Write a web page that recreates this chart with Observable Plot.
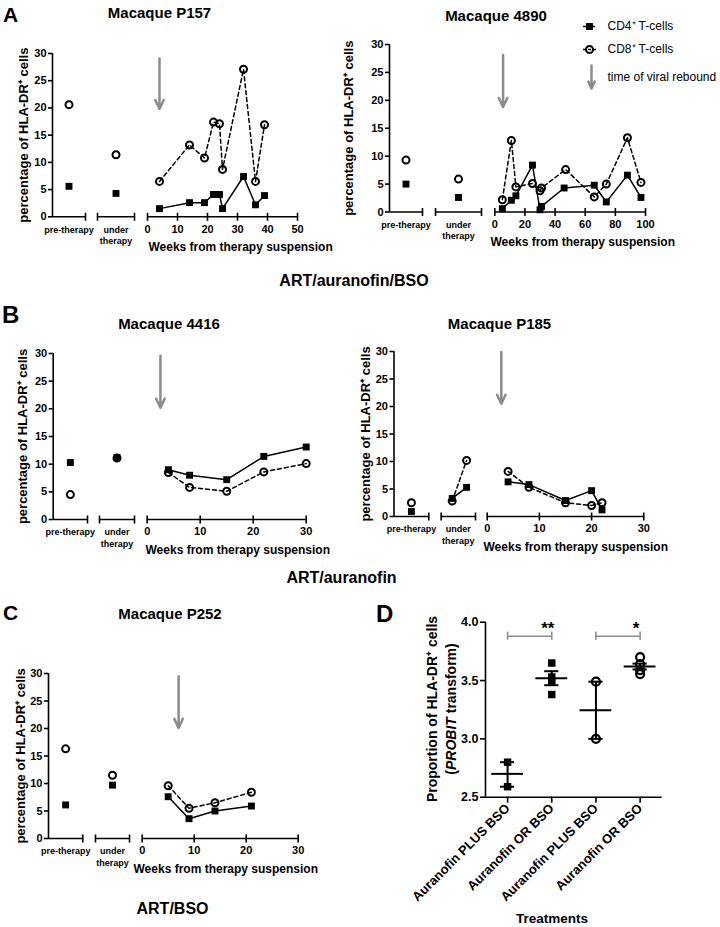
<!DOCTYPE html>
<html><head><meta charset="utf-8">
<script src="https://cdn.jsdelivr.net/npm/d3@7"></script>
<script src="https://cdn.jsdelivr.net/npm/@observablehq/plot@0.6"></script>
<style>
body{margin:0;background:#fff;}
#root{position:relative;width:720px;height:927px;overflow:hidden;background:#fff;}
.layer{position:absolute;}
</style></head><body><div id="root"></div>
<script>
// ---------------- DATA ----------------
const yTicks = [0, 5, 10, 15, 20, 25, 30];
const yLabel = "percentage of HLA-DR⁺ cells";

// Macaque P157
const P157_phase = ["pre-therapy", "under therapy"];
const P157_phaseCD4 = [5.6, 4.3];
const P157_phaseCD8 = [20.6, 11.4];
const P157_weeksCD4 = [4, 14, 19, 22, 24, 25, 32, 36, 39];
const P157_CD4 = [1.5, 2.6, 2.6, 4.1, 4.1, 1.5, 7.4, 2.2, 3.9];
const P157_weeksCD8 = [4, 14, 19, 22, 24, 25, 32, 36, 39];
const P157_CD8 = [6.5, 13.2, 10.8, 17.4, 17.1, 8.7, 27.1, 6.5, 16.9];
const P157_rebound = 4;
const P157_weekTicks = [0, 10, 20, 30, 40, 50];

// Macaque 4890
const M4890_phase = ["pre-therapy", "under therapy"];
const M4890_phaseCD4 = [5.0, 2.6];
const M4890_phaseCD8 = [9.3, 5.9];
const M4890_weeksCD4 = [5, 11, 14, 25, 30, 31, 46, 66, 74, 88, 97];
const M4890_CD4 = [0.6, 2.1, 2.9, 8.4, 0.4, 1.0, 4.3, 4.8, 1.8, 6.6, 2.6];
const M4890_weeksCD8 = [5, 11, 14, 25, 30, 31, 47, 66, 74, 88, 97];
const M4890_CD8 = [2.2, 12.8, 4.5, 5.1, 3.8, 4.3, 7.6, 2.7, 5.0, 13.3, 5.3];
const M4890_rebound = 5.5;
const M4890_weekTicks = [0, 20, 40, 60, 80, 100];

// Macaque 4416
const M4416_phase = ["pre-therapy", "under therapy"];
const M4416_phaseCD4 = [10.3, 11.2];
const M4416_phaseCD8 = [4.5, 11.1];
const M4416_weeksCD4 = [4, 8, 15, 22, 30];
const M4416_CD4 = [9.0, 8.0, 7.2, 11.4, 13.1];
const M4416_weeksCD8 = [4, 8, 15, 22, 30];
const M4416_CD8 = [8.5, 5.8, 5.1, 8.6, 10.1];
const M4416_rebound = 2.5;
const M4416_weekTicks = [0, 10, 20, 30];

// Macaque P185
const P185_phase = ["pre-therapy", "under therapy", "under therapy"];
const P185_phaseCD4 = [0.9, 3.3, 5.3];
const P185_phaseCD8 = [2.5, 2.8, 10.2];
const P185_weeksCD4 = [4, 8, 15, 20, 22];
const P185_CD4 = [6.3, 5.8, 2.9, 4.7, 1.2];
const P185_weeksCD8 = [4, 8, 15, 20, 22];
const P185_CD8 = [8.2, 5.3, 2.5, 2.0, 2.5];
const P185_rebound = 2.7;
const P185_weekTicks = [0, 10, 20, 30];

// Macaque P252
const P252_phase = ["pre-therapy", "under therapy"];
const P252_phaseCD4 = [6.1, 9.7];
const P252_phaseCD8 = [16.3, 11.5];
const P252_weeksCD4 = [5, 9, 14, 21];
const P252_CD4 = [7.6, 3.6, 5.0, 5.9];
const P252_weeksCD8 = [5, 9, 14, 21];
const P252_CD8 = [9.6, 5.5, 6.5, 8.4];
const P252_rebound = 7;
const P252_weekTicks = [0, 10, 20, 30];

// Panel D
const dLabels = ["Auranofin PLUS BSO", "Auranofin OR BSO", "Auranofin PLUS BSO", "Auranofin OR BSO"];
const dPoints = [[2.80, 2.59], [3.65, 3.53, 3.49, 3.38], [3.49, 3.00], [3.70, 3.64, 3.59, 3.555]];
const dMean = [2.70, 3.52, 3.245, 3.62];
const dErrLo = [2.59, 3.46, 3.00, 3.595];
const dErrHi = [2.80, 3.58, 3.49, 3.645];
const dYTicks = [2.5, 3.0, 3.5, 4.0];
const dSig = [{from: 0, to: 1, label: "**"}, {from: 2, to: 3, label: "*"}];

const legendLabels = ["CD4⁺ T-cells", "CD8⁺ T-cells", "time of viral rebound"];

// ---------------- DRAWING ----------------
const FONT = '"Liberation Sans", Arial, Helvetica, sans-serif';
const GRAY = "#8c8c8c";
const root = document.getElementById("root");
function place(node, left, top) {
  const div = document.createElement("div");
  div.className = "layer";
  div.style.left = left + "px";
  div.style.top = top + "px";
  div.appendChild(node);
  root.appendChild(div);
}
const baseStyle = {fontFamily: FONT, background: "transparent", overflow: "visible", color: "black"};

function timePanel(p, L) {
  const ppw = (L.wEnd - L.w0) / L.wMax;
  const xv = px => (px - L.w0) / ppw;
  const ppu = (L.y0 - L.y30) / 30;
  const pxY = px => px / ppu;
  const top = L.y30 - 30, height = (L.y0 + 44) - top;
  const left = L.left, width = 360;
  const segs = [[L.yAx, L.preEnd], [L.uS, L.uE], [L.w0, L.wEnd]].map(s => s.map(xv));
  const caps = [L.preEnd, L.uS, L.uE].map(xv);
  const segOf = {"pre-therapy": [L.yAx, L.preEnd], "under therapy": [L.uS, L.uE]};
  const phasePts = p.phase.map((ph, i) => {
    const n = p.phase.filter(q => q === ph).length;
    const k = p.phase.slice(0, i).filter(q => q === ph).length;
    const fr = n === 1 ? 0.5 : [0.32, 0.74][k];
    const [a, b] = segOf[ph];
    return {ph, x: xv(a + (b - a) * fr), cd4: p.phaseCD4[i], cd8: p.phaseCD8[i]};
  });
  const wk4 = p.weeksCD4.map((w, i) => ({w, v: p.CD4[i]}));
  const wk8 = p.weeksCD8.map((w, i) => ({w, v: p.CD8[i]}));
  const phaseText = [
    {x: xv((L.yAx + L.preEnd) / 2), t: "pre-therapy", off: 13},
    {x: xv((L.uS + L.uE) / 2), t: "under", off: 13},
    {x: xv((L.uS + L.uE) / 2), t: "therapy", off: 24.5}
  ];
  const chart = Plot.plot({
    width, height,
    marginLeft: L.yAx - left, marginRight: left + width - L.wEnd,
    marginTop: L.y30 - top, marginBottom: top + height - L.y0,
    style: baseStyle,
    x: {domain: [xv(L.yAx), L.wMax]},
    y: {domain: [0, 30]},
    marks: [
      Plot.ruleY(segs, {x1: d => d[0], x2: d => d[1], y: 0, strokeWidth: 1.6}),
      Plot.ruleX(caps.concat(p.weekTicks), {x: d => d, y1: -pxY(4.5), y2: pxY(3.5), strokeWidth: 1.6}),
      Plot.ruleX([xv(L.yAx)], {x: d => d, y1: 0, y2: 30, strokeWidth: 1.6}),
      Plot.axisY({ticks: yTicks, tickSize: 4, tickPadding: 2, fontSize: 11, fontWeight: "bold", label: null, strokeWidth: 1.6}),
      Plot.axisX({ticks: p.weekTicks, tickSize: 0, tickPadding: 8, fontSize: 11, fontWeight: "bold", label: null}),
      Plot.text(phaseText, {x: "x", y: d => -pxY(d.off), text: "t", fontSize: 9, fontWeight: "bold"}),
      Plot.text(["Weeks from therapy suspension"], {x: xv(L.wl), y: -pxY(30.5), text: d => d, textAnchor: "start", fontSize: 12, fontWeight: "bold"}),
      Plot.text([yLabel], {x: xv(L.yl), y: 15, text: d => d, rotate: -90, fontSize: 13, fontWeight: "bold"}),
      Plot.arrow([p.rebound], {x1: d => d, x2: d => d, y1: L.arTop, y2: L.arBot, stroke: GRAY, strokeWidth: 2.5, headLength: 6, headAngle: 50}),
      Plot.line(wk8, {x: "w", y: "v", stroke: "black", strokeWidth: 1.5, strokeDasharray: "4,3"}),
      Plot.line(wk4, {x: "w", y: "v", stroke: "black", strokeWidth: 1.5}),
      Plot.line(phasePts, {x: "x", y: "cd8", z: "ph", stroke: "black", strokeWidth: 1.5, strokeDasharray: "4,3"}),
      Plot.line(phasePts, {x: "x", y: "cd4", z: "ph", stroke: "black", strokeWidth: 1.5}),
      Plot.dot(wk4, {x: "w", y: "v", symbol: "square", r: 3.9, fill: "black"}),
      Plot.dot(phasePts, {x: "x", y: "cd4", symbol: "square", r: 3.9, fill: "black"}),
      Plot.dot(wk8, {x: "w", y: "v", r: 3.5, stroke: "black", strokeWidth: 2, fill: "none"}),
      Plot.dot(phasePts, {x: "x", y: "cd8", r: 3.5, stroke: "black", strokeWidth: 2, fill: "none"})
    ]
  });
  place(chart, left, top);
}

const panels = [
  [{phase: P157_phase, phaseCD4: P157_phaseCD4, phaseCD8: P157_phaseCD8, weeksCD4: P157_weeksCD4, CD4: P157_CD4, weeksCD8: P157_weeksCD8, CD8: P157_CD8, rebound: P157_rebound, weekTicks: P157_weekTicks},
   {left: 0, yAx: 52, preEnd: 85, uS: 97, uE: 134, w0: 147, wEnd: 297, wMax: 50, y30: 53, y0: 216.3, yl: 23, wl: 148, arTop: 29.1, arBot: 19.8}],
  [{phase: M4890_phase, phaseCD4: M4890_phaseCD4, phaseCD8: M4890_phaseCD8, weeksCD4: M4890_weeksCD4, CD4: M4890_CD4, weeksCD8: M4890_weeksCD8, CD8: M4890_CD8, rebound: M4890_rebound, weekTicks: M4890_weekTicks},
   {left: 360, yAx: 389, preEnd: 422, uS: 435, uE: 481, w0: 494.3, wEnd: 645, wMax: 100, y30: 43.5, y0: 211, yl: 348, wl: 490, arTop: 28.1, arBot: 18.8}],
  [{phase: M4416_phase, phaseCD4: M4416_phaseCD4, phaseCD8: M4416_phaseCD8, weeksCD4: M4416_weeksCD4, CD4: M4416_CD4, weeksCD8: M4416_weeksCD8, CD8: M4416_CD8, rebound: M4416_rebound, weekTicks: M4416_weekTicks},
   {left: 0, yAx: 52.7, preEnd: 87, uS: 99, uE: 134, w0: 146.7, wEnd: 305.7, wMax: 30, y30: 352.5, y0: 518.5, yl: 22, wl: 145, arTop: 29.6, arBot: 20.2}],
  [{phase: P185_phase, phaseCD4: P185_phaseCD4, phaseCD8: P185_phaseCD8, weeksCD4: P185_weeksCD4, CD4: P185_CD4, weeksCD8: P185_weeksCD8, CD8: P185_CD8, rebound: P185_rebound, weekTicks: P185_weekTicks},
   {left: 360, yAx: 393.5, preEnd: 428.3, uS: 440.7, uE: 475, w0: 486.7, wEnd: 643.3, wMax: 30, y30: 351, y0: 516, yl: 365, wl: 483, arTop: 29.9, arBot: 20.5}],
  [{phase: P252_phase, phaseCD4: P252_phaseCD4, phaseCD8: P252_phaseCD8, weeksCD4: P252_weeksCD4, CD4: P252_CD4, weeksCD8: P252_weeksCD8, CD8: P252_CD8, rebound: P252_rebound, weekTicks: P252_weekTicks},
   {left: 0, yAx: 48, preEnd: 82.3, uS: 95, uE: 129, w0: 141.7, wEnd: 297.7, wMax: 30, y30: 673.3, y0: 838.3, yl: 20, wl: 133, arTop: 29.5, arBot: 20.1}]
];
panels.forEach(([p, L]) => timePanel(p, L));

// Legend
place(Plot.plot({
  width: 145, height: 85, margin: 0, style: baseStyle,
  x: {domain: [0, 145], range: [0, 145], axis: null},
  y: {domain: [0, 85], range: [0, 85], axis: null},
  marks: [
    Plot.ruleY([16], {x1: 8, x2: 20, strokeWidth: 1.5}),
    Plot.dot([0], {x: 14, y: 16, symbol: "square", r: 3.9, fill: "black"}),
    Plot.ruleY([39], {x1: 8, x2: 21, strokeWidth: 1.5, strokeDasharray: "3,2"}),
    Plot.dot([0], {x: 14, y: 39, r: 3.5, stroke: "black", strokeWidth: 2, fill: "none"}),
    Plot.arrow([0], {x1: 16, x2: 16, y1: 55, y2: 78, stroke: GRAY, strokeWidth: 2.5, headLength: 6, headAngle: 50}),
    Plot.text(legendLabels, {x: 32, y: (d, i) => [16, 39, 67][i], text: d => d, textAnchor: "start", fontSize: 12})
  ]
}), 575, 10);

// Panel D
const idx = dLabels.map((_, i) => i);
const dPts = dPoints.flatMap((vals, g) => vals.map(v => ({g, v})));
const sigLevel = 3.88;
place(Plot.plot({
  width: 360, height: 327,
  marginLeft: 125, marginRight: 58.3, marginTop: 21.7, marginBottom: 130.3,
  style: baseStyle,
  x: {domain: [-0.5, 3.5]},
  y: {domain: [2.5, 4.0]},
  marks: [
    Plot.ruleX([-0.5], {x: d => d, y1: 2.5, y2: 4.0, strokeWidth: 1.6}),
    Plot.ruleY([2.5], {y: d => d, x1: -0.5, x2: 3.5, strokeWidth: 1.6}),
    Plot.axisY({ticks: dYTicks, tickFormat: d3.format(".1f"), tickSize: 5, tickPadding: 2, fontSize: 12.5, fontWeight: "bold", label: null, strokeWidth: 1.6}),
    Plot.axisX({ticks: idx, tickFormat: i => dLabels[i], tickRotate: -45, tickSize: 6, tickPadding: 3, fontSize: 13, fontWeight: "bold", label: null, strokeWidth: 1.6}),
    Plot.ruleY(dSig, {x1: "from", x2: "to", y: sigLevel, stroke: GRAY, strokeWidth: 1.6}),
    Plot.ruleX(dSig.flatMap(s => [s.from, s.to]), {x: d => d, y1: sigLevel - 0.035, y2: sigLevel + 0.035, stroke: GRAY, strokeWidth: 1.6}),
    Plot.text(dSig, {x: "to", y: sigLevel + 0.065, text: "label", dx: -4, fontSize: 17, fontWeight: "bold"}),
    Plot.ruleX(idx, {x: i => i, y1: i => dErrLo[i], y2: i => dErrHi[i], strokeWidth: 2}),
    Plot.ruleY(idx.flatMap(i => [{i, v: dErrLo[i]}, {i, v: dErrHi[i]}]), {x1: d => d.i - 0.16, x2: d => d.i + 0.16, y: "v", strokeWidth: 2}),
    Plot.ruleY(idx, {x1: i => i - 0.36, x2: i => i + 0.36, y: i => dMean[i], strokeWidth: 2}),
    Plot.dot(dPts.filter(d => d.g < 2), {x: "g", y: "v", symbol: "square", r: 4.2, fill: "black"}),
    Plot.dot(dPts.filter(d => d.g >= 2), {x: "g", y: "v", r: 4, stroke: "black", strokeWidth: 2.2, fill: "none"})
  ]
}), 360, 600);

// Overlay text (panel letters, titles, group labels)
const overlayText = [
  {x: 3, y: 22, t: "A", s: 21, a: "start"},
  {x: 159.5, y: 18, t: "Macaque P157", s: 15},
  {x: 496, y: 20.5, t: "Macaque 4890", s: 15},
  {x: 354, y: 286, t: "ART/auranofin/BSO", s: 16},
  {x: 2, y: 323, t: "B", s: 24, a: "start"},
  {x: 169, y: 329, t: "Macaque 4416", s: 15},
  {x: 499.5, y: 329, t: "Macaque P185", s: 15},
  {x: 341.5, y: 583, t: "ART/auranofin", s: 16},
  {x: 3, y: 620, t: "C", s: 21, a: "start"},
  {x: 170, y: 619, t: "Macaque P252", s: 15},
  {x: 376, y: 622, t: "D", s: 24, a: "start"},
  {x: 172.5, y: 914, t: "ART/BSO", s: 16},
  {x: 552, y: 923, t: "Treatments", s: 13.5}
];
const ov = d3.create("svg").attr("width", 720).attr("height", 927)
  .style("font-family", FONT).style("overflow", "visible");
ov.selectAll("text.t").data(overlayText).join("text").attr("class", "t")
  .attr("x", d => d.x).attr("y", d => d.y).attr("font-size", d => d.s)
  .attr("font-weight", "bold").attr("text-anchor", d => d.a || "middle").text(d => d.t);
const yl1 = ov.append("text").attr("transform", "translate(432,709) rotate(-90)")
  .attr("text-anchor", "middle").attr("dominant-baseline", "central")
  .attr("font-size", 14).attr("font-weight", "bold").text("Proportion of HLA-DR⁺ cells");
const yl2 = ov.append("text").attr("transform", "translate(451,709) rotate(-90)")
  .attr("text-anchor", "middle").attr("dominant-baseline", "central")
  .attr("font-size", 14).attr("font-weight", "bold");
yl2.append("tspan").text("(");
yl2.append("tspan").attr("font-style", "italic").text("PROBIT");
yl2.append("tspan").text(" transform)");
const ovDiv = document.createElement("div");
ovDiv.className = "layer"; ovDiv.style.left = "0px"; ovDiv.style.top = "0px"; ovDiv.style.pointerEvents = "none";
ovDiv.appendChild(ov.node());
root.appendChild(ovDiv);
</script></body></html>
